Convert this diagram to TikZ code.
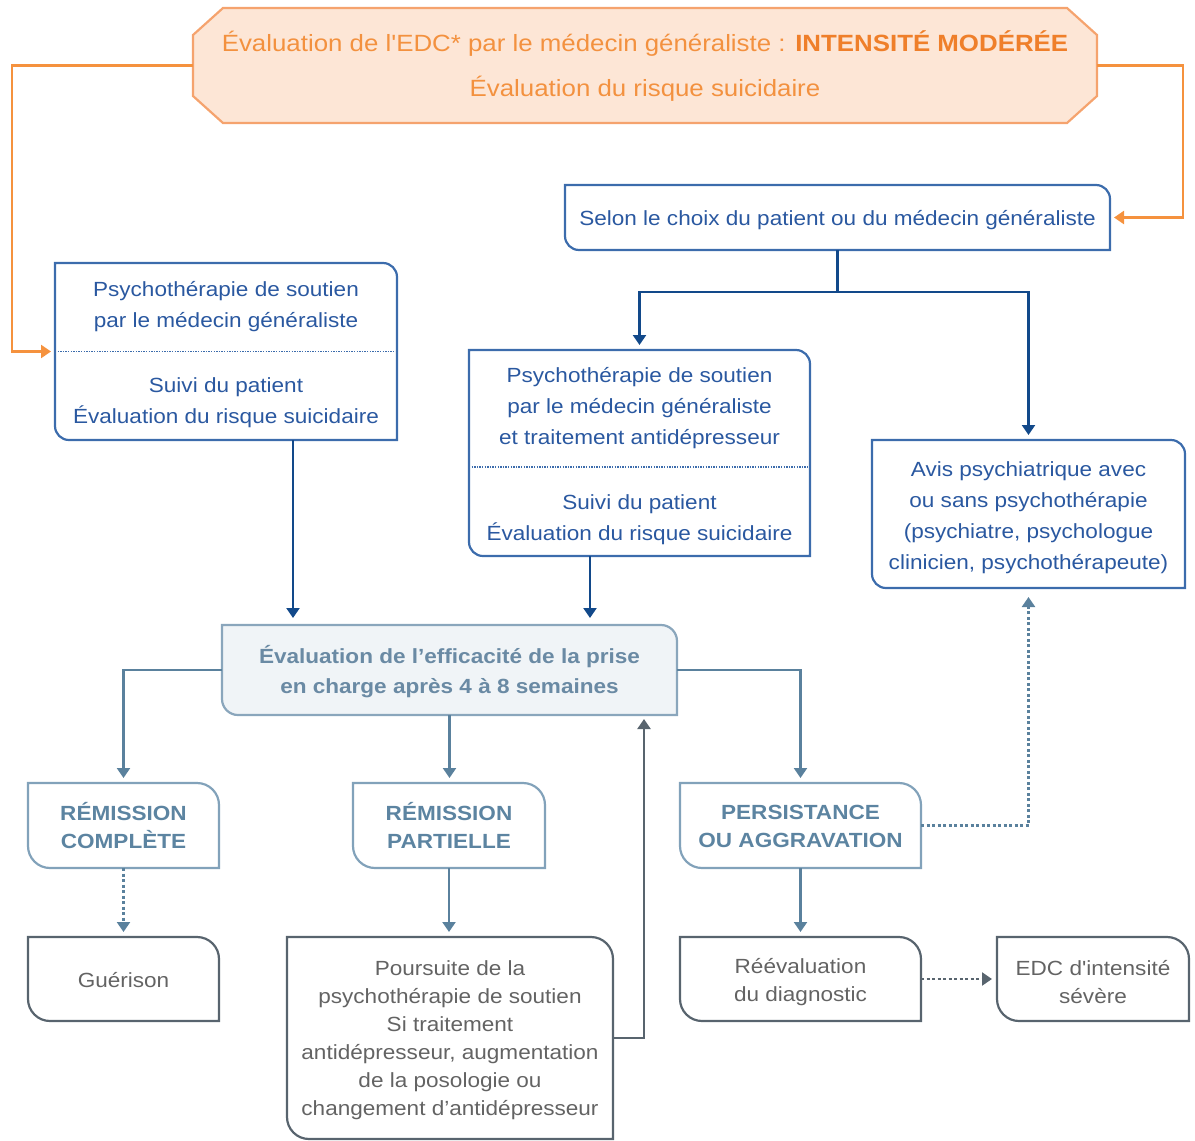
\documentclass[tikz,border=0pt]{standalone}
\usepackage{fontspec}
\setmainfont{Liberation Sans}[FakeStretch=1.1,Ligatures=TeXOff]
\usetikzlibrary{arrows.meta,calc,backgrounds}
\definecolor{orline}{HTML}{F5A36E}
\definecolor{orfill}{HTML}{FDE6D6}
\definecolor{ortext}{HTML}{F3913F}
\definecolor{orbold}{HTML}{EF7F2A}
\definecolor{orarrow}{HTML}{F5923E}
\definecolor{ubtext}{HTML}{2A58A0}
\definecolor{ubline}{HTML}{3C6CAC}
\definecolor{ubarrow}{HTML}{12498A}
\definecolor{evtext}{HTML}{6A8AA4}
\definecolor{evfill}{HTML}{F0F4F7}
\definecolor{evline}{HTML}{8AA6BC}
\definecolor{lbtext}{HTML}{5C84A1}
\definecolor{lbline}{HTML}{82A2BA}
\definecolor{lbarrow}{HTML}{5A819D}
\definecolor{gytext}{HTML}{636363}
\definecolor{gyline}{HTML}{58646E}
\newcommand\dround[3]{\draw[#3] (#1.north west) -- ([xshift=-#2]#1.north east) arc[start angle=90,end angle=0,radius=#2] -- (#1.south east) -- ([xshift=#2]#1.south west) arc[start angle=270,end angle=180,radius=#2] -- cycle;}
\begin{document}
\begin{tikzpicture}[x=1pt,y=1pt,
  bx/.style={inner sep=0pt,outer sep=0pt,align=center},
  up/.style={bx,text=ubtext,font=\fontsize{20.5}{31}\selectfont},
  ev/.style={bx,text=evtext,font=\fontsize{20.5}{30}\selectfont\bfseries},
  rem/.style={bx,text=lbtext,font=\fontsize{20.5}{28}\selectfont\bfseries},
  gy/.style={bx,text=gytext,font=\fontsize{20.5}{28}\selectfont},
  tipA/.style={-{Triangle[width=13pt,length=10pt]}},
  uparr/.style={draw=ubarrow,line width=2.3pt,tipA},
  lbarr/.style={draw=lbarrow,line width=2.3pt,tipA},
  orarr/.style={draw=orarrow,line width=2.3pt,tipA},
  sepline/.style={draw=ubline,line width=1.2pt,dash pattern=on 1.3pt off 1.3pt},
  dotarr/.style={line width=2.3pt,dash pattern=on 3pt off 2.5pt,tipA},
  bord/.style={line width=2.2pt}
]
\useasboundingbox (0,0) rectangle (1195,-1141);

% ---------- box nodes ----------
\node[bx,minimum width=904pt,minimum height=115pt] (top) at (645,-65.5) {};
\node[bx,minimum width=545pt,minimum height=65pt] (selon) at (837.5,-217.5) {};
\node[bx,minimum width=342pt,minimum height=177pt] (left) at (226,-351.5) {};
\node[bx,minimum width=341pt,minimum height=206pt] (mid) at (639.5,-453) {};
\node[bx,minimum width=313pt,minimum height=148pt] (avis) at (1028.5,-514) {};
\node[bx,minimum width=455pt,minimum height=90pt] (eval) at (449.5,-670) {};
\node[bx,minimum width=191pt,minimum height=85pt] (rc) at (123.5,-825.5) {};
\node[bx,minimum width=192pt,minimum height=85pt] (rp) at (449,-825.5) {};
\node[bx,minimum width=241pt,minimum height=85pt] (pa) at (800.5,-825.5) {};
\node[bx,minimum width=191pt,minimum height=84pt] (gu) at (123.5,-979) {};
\node[bx,minimum width=326pt,minimum height=202pt] (po) at (450,-1038) {};
\node[bx,minimum width=241pt,minimum height=84pt] (re) at (800.5,-979) {};
\node[bx,minimum width=192pt,minimum height=84pt] (edc) at (1093,-979) {};

% ---------- outlines ----------
\draw[draw=orline,fill=orfill,bord]
  ([xshift=30pt]top.north west) -- ([xshift=-30pt]top.north east) -- ([yshift=-27pt]top.north east)
  -- ([yshift=27pt]top.south east) -- ([xshift=-30pt]top.south east) -- ([xshift=30pt]top.south west)
  -- ([yshift=27pt]top.south west) -- ([yshift=-27pt]top.north west) -- cycle;
\dround{selon}{14pt}{draw=ubline,bord}
\dround{left}{14pt}{draw=ubline,bord}
\dround{mid}{14pt}{draw=ubline,bord}
\dround{avis}{14pt}{draw=ubline,bord}
\dround{eval}{16pt}{draw=evline,fill=evfill,bord}
\dround{rc}{22pt}{draw=lbline,bord}
\dround{rp}{22pt}{draw=lbline,bord}
\dround{pa}{22pt}{draw=lbline,bord}
\dround{gu}{22pt}{draw=gyline,bord}
\dround{po}{22pt}{draw=gyline,bord}
\dround{re}{22pt}{draw=gyline,bord}
\dround{edc}{22pt}{draw=gyline,bord}
\draw[sepline] (left.west) -- (left.east);
\draw[sepline] ([yshift=-14pt]mid.west) -- ([yshift=-14pt]mid.east);

% ---------- texts ----------
\node[bx,text=ortext,font=\fontsize{23.5}{45}\selectfont] (toptext) at (645,-66)
  {Évaluation de l'EDC* par le médecin généraliste : {\color{orbold}\bfseries INTENSITÉ MODÉRÉE}\\Évaluation du risque suicidaire};
\node[up] (selonT) at (837.5,-220.5) {Selon le choix du patient ou du médecin généraliste};
\node[up] (leftA) at (226,-307) {Psychothérapie de soutien\\par le médecin généraliste};
\node[up] (leftB) at (226,-403) {Suivi du patient\\Évaluation du risque suicidaire};
\node[up] (midA) at (639.5,-408) {Psychothérapie de soutien\\par le médecin généraliste\\et traitement antidépresseur};
\node[up] (midB) at (639.5,-519.5) {Suivi du patient\\Évaluation du risque suicidaire};
\node[up] (avisT) at (1028.5,-518) {Avis psychiatrique avec\\ou sans psychothérapie\\(psychiatre, psychologue\\clinicien, psychothérapeute)};
\node[ev] (evalT) at (449.5,-672) {Évaluation de l’efficacité de la prise\\en charge après 4 à 8 semaines};
\node[rem] (rcT) at (123.5,-825.5) {RÉMISSION\\COMPLÈTE};
\node[rem] (rpT) at (449,-825.5) {RÉMISSION\\PARTIELLE};
\node[rem] (paT) at (800.5,-826.5) {PERSISTANCE\\OU AGGRAVATION};
\node[gy] (guT) at (123.5,-980) {Guérison};
\node[gy] (poT) at (450,-1040) {Poursuite de la\\psychothérapie de soutien\\Si traitement\\antidépresseur, augmentation\\de la posologie ou\\changement d’antidépresseur};
\node[gy] (reT) at (800.5,-982) {Réévaluation\\du diagnostic};
\node[gy] (edcT) at (1093,-982) {EDC d'intensité\\sévère};

% ---------- connectors ----------
\coordinate (lx) at (12,0);
\coordinate (rx) at (1183,0);
\draw[orarr,shorten >=4pt] (top.west) -- (top.west -| lx) |- (left.west);
\draw[orarr,shorten >=4pt] (top.east) -- (top.east -| rx) |- (selon.east);

\coordinate (br) at ($(selon.south)+(0,-42)$);
\draw[draw=ubarrow,line width=2.3pt] (selon.south) -- (br);
\draw[uparr,shorten >=5pt] (br) -| (mid.north);
\draw[uparr,shorten >=5pt] (br) -| (avis.north);

\coordinate (e1) at ([xshift=-156.5pt]eval.north);
\coordinate (e2) at ([xshift=140.5pt]eval.north);
\coordinate (e3) at ([xshift=194.5pt]eval.south);
\draw[uparr,shorten >=7pt] (left.south -| e1) -- (e1);
\draw[uparr,shorten >=7pt] (mid.south -| e2) -- (e2);

\draw[lbarr,shorten >=5pt] (eval.west) -| (rc.north);
\draw[lbarr,shorten >=5pt] (eval.south) -- (eval.south |- rp.north);
\draw[lbarr,shorten >=5pt] (eval.east) -| (pa.north);

\draw[dotarr,draw=lbarrow,shorten >=5pt] (rc.south) -- (gu.north);
\draw[lbarr,shorten >=5pt] (rp.south) -- (rp.south |- po.north);
\draw[lbarr,shorten >=5pt] (pa.south) -- (re.north);
\draw[dotarr,draw=gyline,shorten >=5pt] (re.east) -- (edc.west);
\draw[dotarr,draw=lbarrow,shorten >=9pt] (pa.east) -| (avis.south);
\draw[draw=gyline,line width=2.3pt,tipA,shorten >=4pt] (po.east) -| (e3);
\end{tikzpicture}
\end{document}
